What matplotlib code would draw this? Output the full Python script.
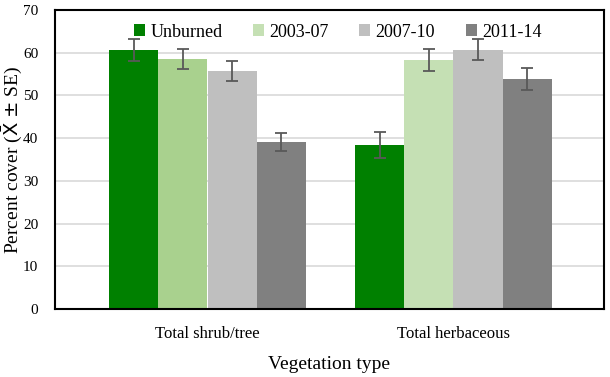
import numpy as np
import matplotlib
matplotlib.use('Agg')
import matplotlib.pyplot as plt
from matplotlib.patches import Patch

plt.rcParams['font.family'] = ['Liberation Serif', 'DejaVu Serif']
plt.rcParams['mathtext.fontset'] = 'dejavusans'

categories = ['Total shrub/tree', 'Total herbaceous']
series = ['Unburned', '2003-07', '2007-10', '2011-14']
means = {
    'Unburned': [60.7, 38.4],
    '2003-07': [58.5, 58.3],
    '2007-10': [55.7, 60.7],
    '2011-14': [39.1, 53.9],
}
errs = {
    'Unburned': [2.6, 3.1],
    '2003-07': [2.3, 2.6],
    '2007-10': [2.4, 2.5],
    '2011-14': [2.1, 2.6],
}
# colours per bar (2003-07 is a different shade in the first group)
colors = {
    'Unburned': ['#008000', '#008000'],
    '2003-07': ['#a9d18e', '#c5e0b4'],
    '2007-10': ['#bfbfbf', '#bfbfbf'],
    '2011-14': ['#808080', '#808080'],
}
legend_colors = ['#008000', '#c5e0b4', '#bfbfbf', '#808080']

fig = plt.figure(figsize=(6.1, 3.77), dpi=100)
ax = fig.add_axes([55/610, 1 - 309/377, 549/610, 299/377])

group_pos = np.array([0, 5])
for i, s in enumerate(series):
    x = group_pos + i
    ax.bar(x, means[s], width=1.0, color=colors[s], zorder=2)
    ax.errorbar(x, means[s], yerr=errs[s], fmt='none', ecolor='#595959',
                elinewidth=1.3, capsize=4, capthick=1.3, zorder=3)

ax.set_xlim(-1.6, 9.56)
ax.set_ylim(0, 70)
ax.set_yticks(range(0, 71, 10))
ax.set_xticks(group_pos + 1.5)
ax.set_xticklabels(categories, fontsize=12)
ax.tick_params(axis='both', length=0, labelsize=11)
ax.tick_params(axis='x', labelsize=12, pad=12)
ax.tick_params(axis='y', pad=12)
ax.yaxis.grid(True, color='#d9d9d9', linewidth=1.2, zorder=0)
ax.set_axisbelow(True)
for sp in ax.spines.values():
    sp.set_color('black')
    sp.set_linewidth(1.5)

# y label placed by hand so it isn't pushed off the left edge
fig.text(12/610, 1 - 160/377, r'Percent cover ($\bar{\mathsf{X}}$ $\pm$ SE)',
         rotation=90, ha='center', va='center', fontsize=14)
ax.set_xlabel('Vegetation type', fontsize=14, labelpad=10)

handles = [Patch(facecolor=c, edgecolor='none') for c in legend_colors]
ax.legend(handles, series, loc='upper center', bbox_to_anchor=(0.515, 1.0),
          ncol=4, frameon=False, fontsize=13, handlelength=0.6,
          handleheight=0.6, handletextpad=0.3, columnspacing=1.7,
          borderaxespad=0.35)

fig.savefig('out.png', dpi=100)
